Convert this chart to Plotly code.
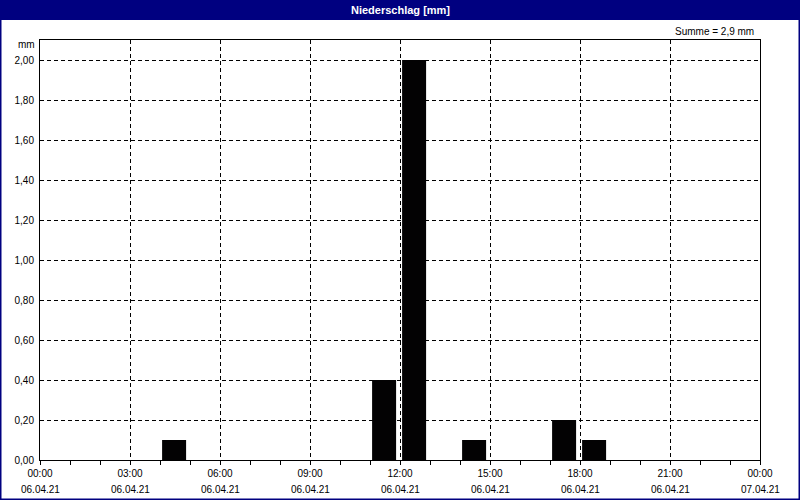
import plotly.graph_objects as go

# Data
bar_starts = ["2021-04-06 04:00", "2021-04-06 11:00", "2021-04-06 12:00",
              "2021-04-06 14:00", "2021-04-06 17:00", "2021-04-06 18:00"]
rain_mm = [0.1, 0.4, 2.0, 0.1, 0.2, 0.1]
tick_times = ["2021-04-06 00:00", "2021-04-06 03:00", "2021-04-06 06:00",
              "2021-04-06 09:00", "2021-04-06 12:00", "2021-04-06 15:00",
              "2021-04-06 18:00", "2021-04-06 21:00", "2021-04-07 00:00"]
tick_hours = ["00:00", "03:00", "06:00", "09:00", "12:00", "15:00",
              "18:00", "21:00", "00:00"]
tick_dates = ["06.04.21", "06.04.21", "06.04.21", "06.04.21", "06.04.21",
              "06.04.21", "06.04.21", "06.04.21", "07.04.21"]
y_ticks = [0, 0.2, 0.4, 0.6, 0.8, 1.0, 1.2, 1.4, 1.6, 1.8, 2.0]
title_text = "Niederschlag [mm]"
sum_text = "Summe = 2,9 mm"
unit_text = "mm"

HOUR = 3600 * 1000
FONT = "Liberation Sans"
FS = 10
NAVY = "#000080"

fig = go.Figure()
fig.add_trace(go.Bar(
    x=bar_starts, y=rain_mm,
    offset=0.07 * HOUR, width=0.8 * HOUR,
    marker=dict(color="#030203", line=dict(width=0)),
    hoverinfo="x+y",
))

W, H = 800, 500
L, R, T, B = 40, 40, 40, 40
pw, ph = W - L - R, H - T - B

def px(xpix):
    return (xpix - L) / pw

def py(ypix):
    return (H - B - ypix) / ph

annotations = [
    dict(text="<b>" + title_text + "</b>", xref="paper", yref="paper",
         x=0.5, y=py(10), xanchor="center", yanchor="middle",
         showarrow=False, font=dict(family=FONT, size=11, color="white")),
    dict(text=sum_text, xref="paper", yref="paper",
         x=px(756), y=py(31), xanchor="right", yanchor="middle",
         showarrow=False, font=dict(family=FONT, size=FS, color="black")),
    dict(text=unit_text, xref="paper", yref="paper",
         x=px(37), y=py(45), xanchor="right", yanchor="middle",
         showarrow=False, font=dict(family=FONT, size=FS, color="black")),
]
for t, d in zip(tick_times, tick_dates):
    annotations.append(dict(text=d, xref="x", yref="paper", x=t, y=py(489),
                            xanchor="center", yanchor="middle", showarrow=False,
                            font=dict(family=FONT, size=FS, color="black")))

fig.update_layout(
    width=W, height=H, autosize=False,
    margin=dict(l=L, r=R, t=T, b=B, pad=0),
    paper_bgcolor="white", plot_bgcolor="white",
    separators=",.",
    showlegend=False,
    font=dict(family=FONT, size=FS, color="black"),
    xaxis=dict(
        type="date",
        range=["2021-04-06 00:00", "2021-04-07 00:00"],
        tickmode="array", tickvals=tick_times, ticktext=tick_hours,
        showgrid=True, gridcolor="black", gridwidth=1, griddash="4px,3px",
        showline=True, linecolor="black", linewidth=1, mirror=True,
        ticks="outside", ticklen=4, tickcolor="black", tickwidth=1,
        minor=dict(dtick=HOUR, tick0="2021-04-06 00:00", ticks="outside",
                   ticklen=4, tickcolor="black", showgrid=False),
        zeroline=False,
        ticklabelstandoff=0,
        tickfont=dict(family=FONT, size=FS),
    ),
    yaxis=dict(
        range=[0, 2.1],
        tickmode="array", tickvals=y_ticks,
        tickformat=".2f",
        showgrid=True, gridcolor="black", gridwidth=1, griddash="4px,3px",
        showline=True, linecolor="black", linewidth=1, mirror=True,
        ticks="", zeroline=False,
        ticklabelstandoff=3,
        tickfont=dict(family=FONT, size=FS),
    ),
    shapes=[
        dict(type="rect", xref="paper", yref="paper",
             x0=px(0), x1=px(W), y0=py(20), y1=py(0),
             fillcolor=NAVY, line=dict(width=0), layer="above"),
        dict(type="rect", xref="paper", yref="paper",
             x0=px(0.75), x1=px(W - 0.75), y0=py(H - 0.75), y1=py(0.75),
             fillcolor="rgba(0,0,0,0)", line=dict(color=NAVY, width=1.5),
             layer="above"),
    ],
    annotations=annotations,
)

fig.write_html(
    "out.html",
    config={"displayModeBar": False, "responsive": False},
    post_script="document.body.style.margin='0';document.body.style.overflow='hidden';",
)
